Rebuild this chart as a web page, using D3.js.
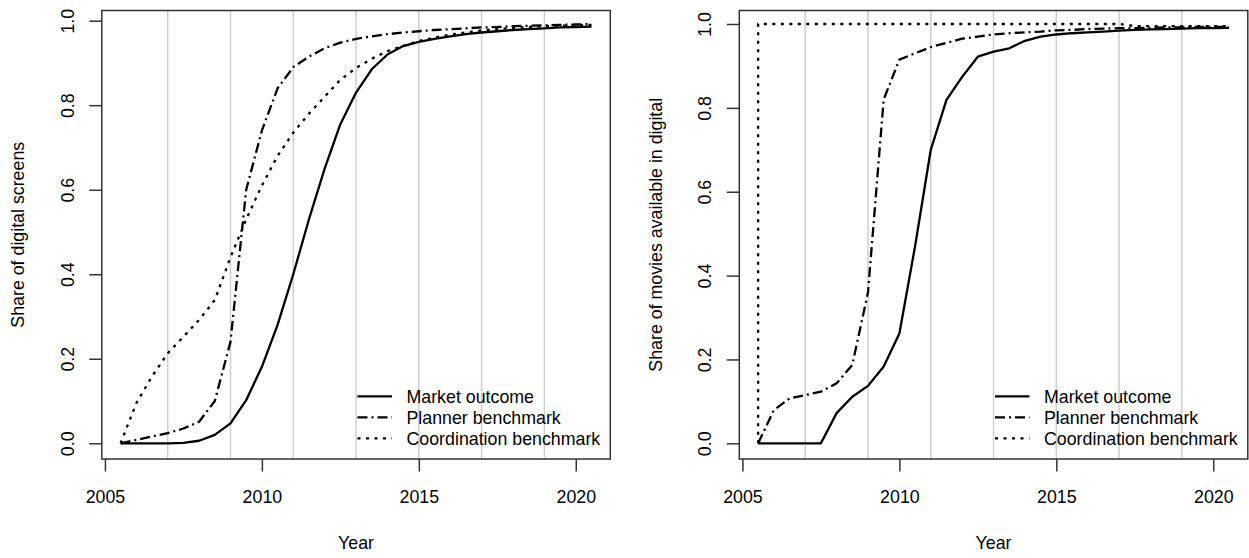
<!DOCTYPE html>
<html>
<head>
<meta charset="utf-8">
<script src="https://cdnjs.cloudflare.com/ajax/libs/d3/7.8.5/d3.min.js"></script>
<style>
    body { margin: 0; background: #fff; }
    svg text { font-family: "Liberation Sans", Arial, Helvetica, sans-serif; fill: #000; }
</style>
</head>
<body>
<div id="chart"></div>
<script>
// half-year steps
var years = [2005.5, 2006, 2006.5, 2007, 2007.5, 2008, 2008.5, 2009, 2009.5, 2010, 2010.5,
    2011, 2011.5, 2012, 2012.5, 2013, 2013.5, 2014, 2014.5, 2015, 2015.5, 2016, 2016.5,
    2017, 2017.5, 2018, 2018.5, 2019, 2019.5, 2020, 2020.5];

// left panel: share of digital screens
var screensMarket = [0, 0, 0, 0, 0.001, 0.006, 0.02, 0.047, 0.102, 0.181, 0.28,
    0.40, 0.53, 0.65, 0.755, 0.83, 0.885, 0.92, 0.94, 0.95, 0.957, 0.963, 0.968,
    0.972, 0.975, 0.978, 0.98, 0.982, 0.984, 0.985, 0.986];
var screensPlanner = [0, 0.008, 0.016, 0.024, 0.035, 0.051, 0.1, 0.24, 0.6, 0.74, 0.84,
    0.89, 0.915, 0.935, 0.948, 0.957, 0.963, 0.968, 0.972, 0.975, 0.978, 0.98, 0.982,
    0.984, 0.985, 0.987, 0.988, 0.989, 0.99, 0.991, 0.992];
var screensCoord = [0, 0.095, 0.158, 0.213, 0.252, 0.292, 0.339, 0.44, 0.53, 0.61, 0.68,
    0.735, 0.78, 0.82, 0.86, 0.888, 0.91, 0.928, 0.94, 0.952, 0.96, 0.967, 0.972,
    0.977, 0.98, 0.983, 0.985, 0.987, 0.988, 0.989, 0.99];

// right panel: share of movies available in digital
var moviesMarket = [0, 0, 0, 0, 0, 0.072, 0.111, 0.137, 0.183, 0.262, 0.47,
    0.70, 0.819, 0.874, 0.922, 0.934, 0.942, 0.96, 0.97, 0.975, 0.978, 0.98, 0.982,
    0.984, 0.986, 0.987, 0.988, 0.989, 0.99, 0.99, 0.991];
var moviesPlanner = [0, 0.079, 0.107, 0.115, 0.123, 0.143, 0.187, 0.36, 0.82, 0.915, 0.93,
    0.945, 0.955, 0.965, 0.97, 0.975, 0.978, 0.98, 0.982, 0.985, 0.986, 0.988, 0.989,
    0.99, 0.99, 0.991, 0.992, 0.992, 0.993, 0.993, 0.993];
var moviesCoordYears = [2005.5, 2005.5, 2017, 2017.5, 2020.5];
var moviesCoord = [0, 1, 1, 0.995, 0.995];

var seriesNames = ["Market outcome", "Planner benchmark", "Coordination benchmark"];
var xTicks = [2005, 2010, 2015, 2020];
var gridYears = [2007, 2009, 2011, 2013, 2015, 2017, 2019];
var yTicks = [0, 0.2, 0.4, 0.6, 0.8, 1.0];

var dashes = [null, "10,4,2,4", "3,5.5"];
var fontSize = 17.8;

var svg = d3.select("#chart")
    .append("svg")
    .attr("width", 1249)
    .attr("height", 558);

function zip(xs, ys) {
    return xs.map(function (d, i) {
        return { year: d, value: ys[i] };
    });
}

function drawPanel(left, yDomain, series, yLabel) {
    var width = 508.5,
        top = 10.5,
        bottom = 459;

    var x = d3.scaleLinear()
        .domain([2004.9, 2021.1])
        .range([left, left + width]);
    var y = d3.scaleLinear()
        .domain(yDomain)
        .range([bottom, top]);

    var g = svg.append("g");

    // grey vertical grid lines
    g.selectAll("line.grid")
        .data(gridYears)
        .enter()
        .append("line")
        .attr("class", "grid")
        .attr("x1", function (d) { return x(d); })
        .attr("x2", function (d) { return x(d); })
        .attr("y1", top)
        .attr("y2", bottom)
        .attr("stroke", "#cfcfcf")
        .attr("stroke-width", 1.5);

    // the lines
    var line = d3.line()
        .x(function (d) { return x(d.year); })
        .y(function (d) { return y(d.value); });

    g.selectAll("path.series")
        .data(series)
        .enter()
        .append("path")
        .attr("class", "series")
        .attr("d", function (d) { return line(d.points); })
        .attr("fill", "none")
        .attr("stroke", "#000")
        .attr("stroke-width", 2.3)
        .attr("stroke-linejoin", "round")
        .attr("stroke-dasharray", function (d, i) { return dashes[i]; });

    // box
    g.append("rect")
        .attr("x", left)
        .attr("y", top)
        .attr("width", width)
        .attr("height", bottom - top)
        .attr("fill", "none")
        .attr("stroke", "#333")
        .attr("stroke-width", 1.5);

    // x axis
    var xAxis = g.append("g")
        .attr("transform", "translate(0," + bottom + ")")
        .call(d3.axisBottom(x).tickValues(xTicks).tickSize(12.5).tickFormat(d3.format("d")));
    xAxis.select(".domain").remove();
    xAxis.attr("color", "#333").attr("font-size", fontSize).attr("font-family", null);
    xAxis.selectAll("line").attr("stroke-width", 1.5);
    xAxis.selectAll("text")
        .attr("y", 44)
        .attr("dy", 0)
        .attr("fill", "#000");

    // y axis
    var yAxis = g.append("g")
        .attr("transform", "translate(" + left + ",0)")
        .call(d3.axisLeft(y).tickValues(yTicks).tickSize(12.5).tickFormat(d3.format(".1f")));
    yAxis.select(".domain").remove();
    yAxis.attr("color", "#333").attr("font-size", fontSize).attr("font-family", null);
    yAxis.selectAll("line").attr("stroke-width", 1.5);
    yAxis.selectAll("text")
        .attr("x", 0)
        .attr("dy", 0)
        .attr("text-anchor", "middle")
        .attr("transform", "translate(-28,0) rotate(-90)")
        .attr("fill", "#000");

    // axis titles
    g.append("text")
        .attr("x", left + width / 2)
        .attr("y", 549)
        .attr("text-anchor", "middle")
        .style("font-size", fontSize + "px")
        .text("Year");
    g.append("text")
        .attr("transform", "translate(" + (left - 77.5) + "," + ((top + bottom) / 2) + ") rotate(-90)")
        .attr("text-anchor", "middle")
        .style("font-size", fontSize + "px")
        .text(yLabel);

    // legend, bottom right
    var textX = left + width - 203.8;
    var legend = g.selectAll("g.legend")
        .data(seriesNames)
        .enter()
        .append("g")
        .attr("class", "legend")
        .attr("transform", function (d, i) {
            return "translate(0," + (403.3 + i * 21) + ")";
        });
    legend.append("line")
        .attr("x1", textX - 49)
        .attr("x2", textX - 14.5)
        .attr("y1", -7)
        .attr("y2", -7)
        .attr("stroke", "#000")
        .attr("stroke-width", 2.3)
        .attr("stroke-dasharray", function (d, i) { return dashes[i]; });
    legend.append("text")
        .attr("x", textX)
        .attr("y", 0)
        .style("font-size", fontSize + "px")
        .text(function (d) { return d; });
}

drawPanel(101.8, [-0.0372, 1.0241], [
    { name: seriesNames[0], points: zip(years, screensMarket) },
    { name: seriesNames[1], points: zip(years, screensPlanner) },
    { name: seriesNames[2], points: zip(years, screensCoord) }
], "Share of digital screens");

drawPanel(739.3, [-0.0374, 1.0322], [
    { name: seriesNames[0], points: zip(years, moviesMarket) },
    { name: seriesNames[1], points: zip(years, moviesPlanner) },
    { name: seriesNames[2], points: zip(moviesCoordYears, moviesCoord) }
], "Share of movies available in digital");
</script>
</body>
</html>
